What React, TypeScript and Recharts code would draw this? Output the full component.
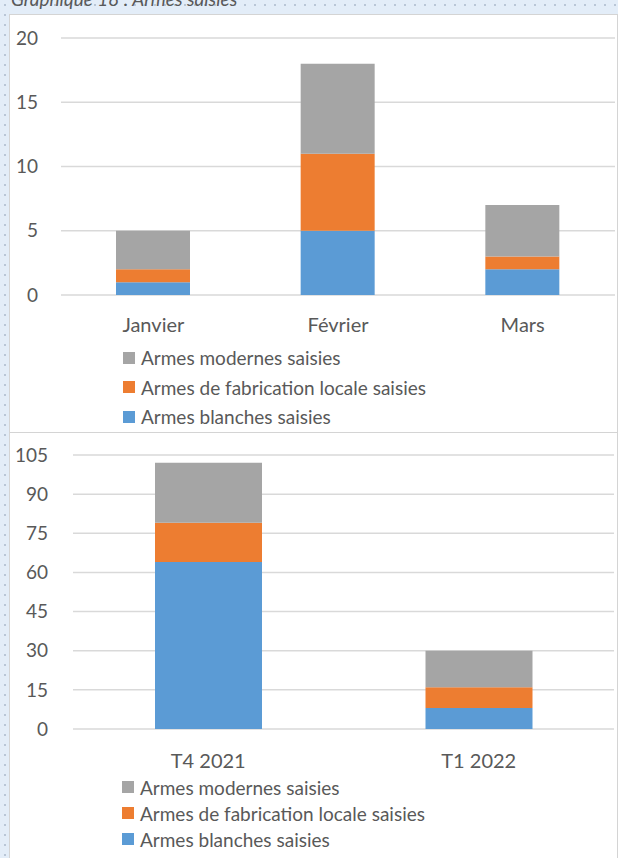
import React from "react";
import { BarChart, Bar, XAxis, YAxis, CartesianGrid } from "recharts";

// Graphique 18 : Armes saisies
const moisCategories = ["Janvier", "Février", "Mars"];
const moisBlanches = [1, 5, 2];
const moisLocales = [1, 6, 1];
const moisModernes = [3, 7, 4];
const moisTicks = [0, 5, 10, 15, 20];

const trimCategories = ["T4 2021", "T1 2022"];
const trimBlanches = [64, 8];
const trimLocales = [15, 8];
const trimModernes = [23, 14];
const trimTicks = [0, 15, 30, 45, 60, 75, 90, 105];

const series = [
  { key: "blanches", name: "Armes blanches saisies", color: "#5b9bd5" },
  { key: "locales", name: "Armes de fabrication locale saisies", color: "#ed7d31" },
  { key: "modernes", name: "Armes modernes saisies", color: "#a5a5a5" },
];

const FONT = "Lato, 'Open Sans', sans-serif";
const TEXT = "#595959";

function buildRows(cats: string[], b: number[], l: number[], m: number[]) {
  return cats.map((c, i) => ({ cat: c, blanches: b[i], locales: l[i], modernes: m[i] }));
}

interface PanelProps {
  rows: any[];
  ticks: number[];
  top: number;
  height: number;
  yWidth: number;
  yMargin: number;
  xMargin: number;
  barSize: number;
  chartMargin: { top: number; right: number; left: number; bottom: number };
  legendTop: number;
  legendLeft: number;
  legendRow: number;
}

function Panel(p: PanelProps) {
  return (
    <div
      style={{
        position: "absolute",
        left: 9,
        top: p.top,
        width: 607,
        height: p.height,
        background: "#fff",
        border: "1px solid #d4d4d4",
      }}
    >
      <BarChart width={607} height={p.height} data={p.rows} margin={p.chartMargin}>
        <CartesianGrid vertical={false} stroke="#d9d9d9" strokeWidth={1.5} />
        <XAxis
          dataKey="cat"
          axisLine={false}
          tickLine={false}
          tickSize={0}
          tickMargin={p.xMargin}
          height={40}
          tick={{ fill: TEXT, fontSize: 20, fontFamily: FONT }}
        />
        <YAxis
          width={p.yWidth}
          ticks={p.ticks}
          domain={[p.ticks[0], p.ticks[p.ticks.length - 1]]}
          axisLine={false}
          tickLine={false}
          tickSize={0}
          tickMargin={p.yMargin}
          interval={0}
          tick={{ fill: TEXT, fontSize: 19, fontFamily: FONT }}
        />
        {series.map((s) => (
          <Bar
            key={s.key}
            dataKey={s.key}
            name={s.name}
            stackId="a"
            fill={s.color}
            barSize={p.barSize}
            isAnimationActive={false}
          />
        ))}
      </BarChart>
      <div style={{ position: "absolute", left: p.legendLeft, top: p.legendTop }}>
        {[...series].reverse().map((s) => (
          <div
            key={s.key}
            style={{
              display: "flex",
              alignItems: "center",
              height: p.legendRow,
              fontFamily: FONT,
              fontSize: 19,
              color: TEXT,
              whiteSpace: "nowrap",
            }}
          >
            <span style={{ width: 12, height: 12, background: s.color, marginRight: 6, display: "inline-block" }} />
            {s.name}
          </div>
        ))}
      </div>
    </div>
  );
}

export default function App() {
  return (
    <div
      style={{
        position: "absolute",
        left: 0,
        top: 0,
        width: 618,
        height: 858,
        overflow: "hidden",
        backgroundColor: "#e3edf8",
        backgroundImage: "radial-gradient(circle, #b9c6d6 1px, transparent 1.3px)",
        backgroundSize: "10px 10px",
      }}
    >
      <div
        style={{
          position: "absolute",
          left: 11,
          top: -13,
          fontFamily: FONT,
          fontStyle: "italic",
          fontSize: 19,
          color: TEXT,
          whiteSpace: "nowrap",
        }}
      >
        Graphique 18 : Armes saisies
      </div>
      <Panel
        rows={buildRows(moisCategories, moisBlanches, moisLocales, moisModernes)}
        ticks={moisTicks}
        top={14}
        height={417}
        yWidth={51}
        yMargin={23}
        xMargin={23}
        barSize={74}
        chartMargin={{ top: 23, right: 2, left: 0, bottom: 97 }}
        legendTop={328}
        legendLeft={113}
        legendRow={29.5}
      />
      <Panel
        rows={buildRows(trimCategories, trimBlanches, trimLocales, trimModernes)}
        ticks={trimTicks}
        top={432}
        height={440}
        yWidth={63}
        yMargin={25}
        xMargin={25}
        barSize={107}
        chartMargin={{ top: 22, right: 3, left: 0, bottom: 104 }}
        legendTop={341}
        legendLeft={112}
        legendRow={26}
      />
    </div>
  );
}
